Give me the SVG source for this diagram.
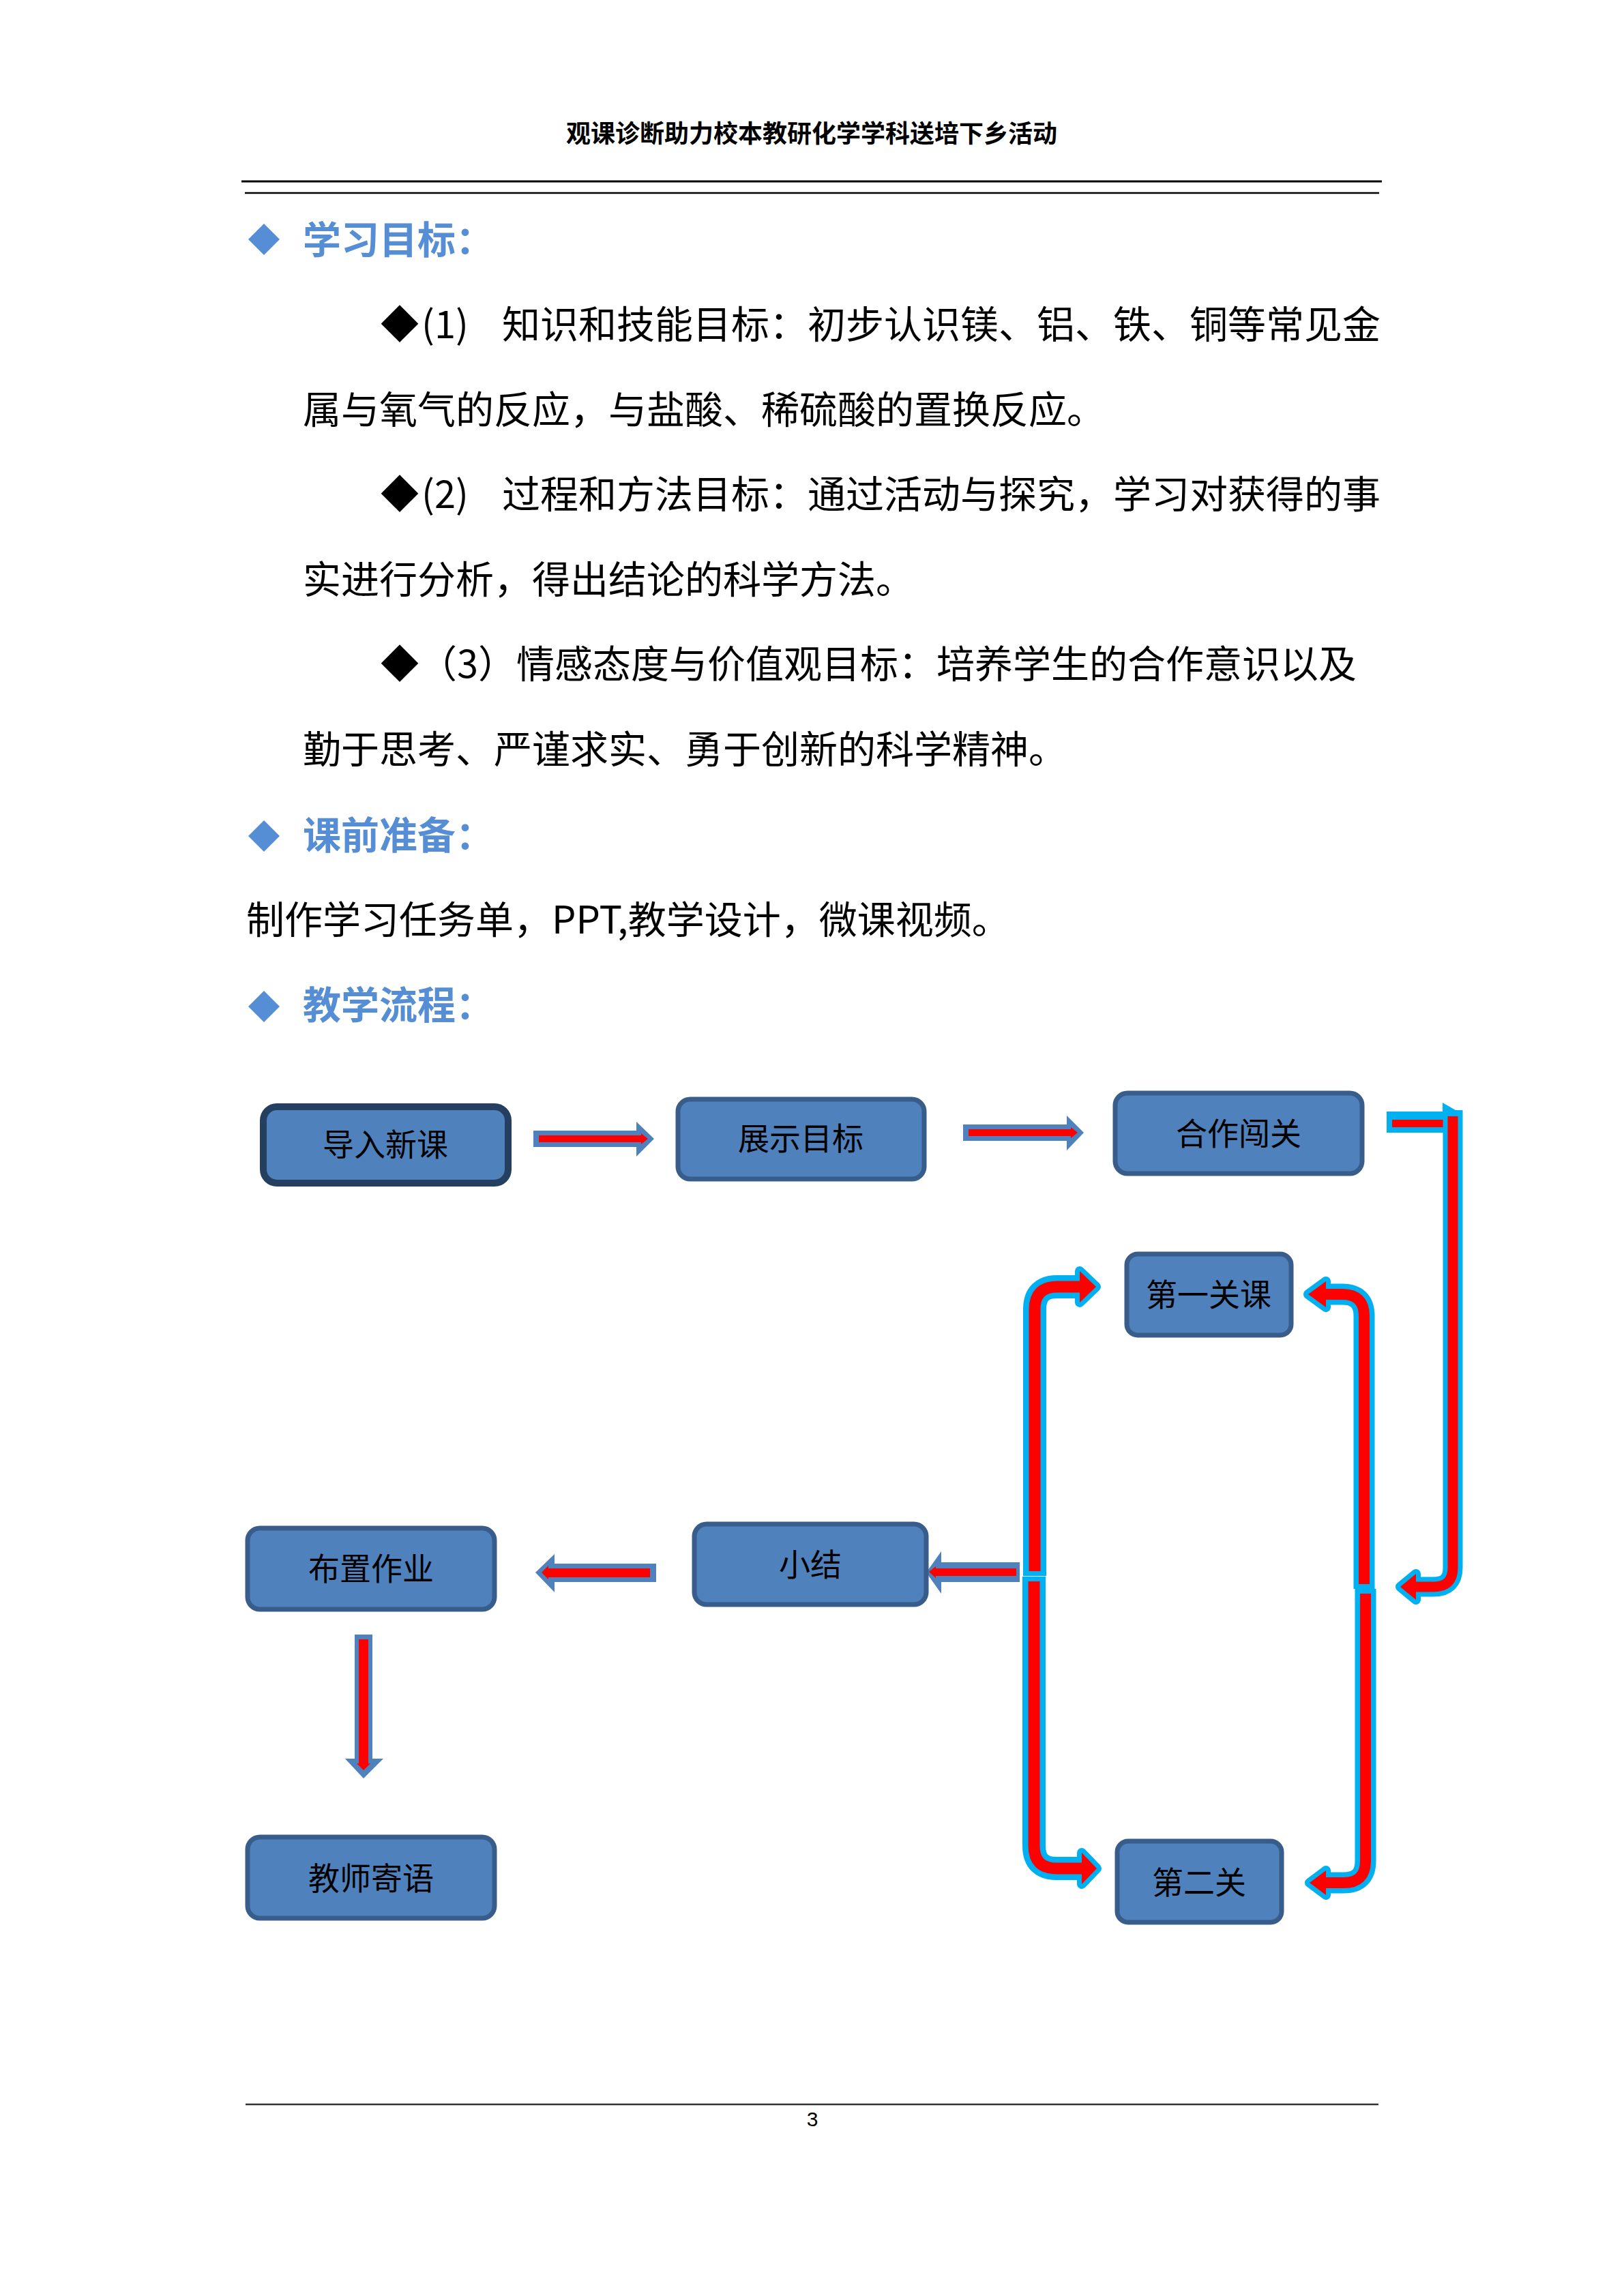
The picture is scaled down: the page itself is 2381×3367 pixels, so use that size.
<svg xmlns="http://www.w3.org/2000/svg" width="2381" height="3367" viewBox="0 0 2381 3367">
<style>
.body{font-family:"Noto Sans CJK SC","Liberation Serif",serif;font-size:56px;fill:#000}
.hd{font-family:"Noto Sans CJK SC","Liberation Sans",sans-serif;font-size:56px;font-weight:bold;fill:#558ED5}
.top{font-family:"Noto Sans CJK SC","Liberation Sans",sans-serif;font-size:36px;font-weight:bold;fill:#000}
.node rect{fill:#4F81BD;stroke:#385D8A;stroke-width:7}
.node text{font-family:"Noto Sans CJK SC","Liberation Serif",serif;font-size:46px;fill:#000;text-anchor:middle}
.blk{fill:#4F81BD}
.red{fill:#FF0000}
.cy{fill:none;stroke:#00B0F0;stroke-linejoin:round}
.rd{fill:none;stroke:#FF0000;stroke-linejoin:round}
.cyh{fill:#00B0F0;stroke:#00B0F0;stroke-width:14;stroke-linejoin:round}
</style>
<rect width="2381" height="3367" fill="#fff"/>

<g id="header">
<text class="top" x="1190" y="209" text-anchor="middle">观课诊断助力校本教研化学学科送培下乡活动</text>
<line x1="354" y1="266" x2="2026" y2="266" stroke="#000" stroke-width="3"/>
<line x1="359" y1="283" x2="2022" y2="283" stroke="#000" stroke-width="2.5"/>
</g>

<g id="text">
<polygon points="387,328 410,351 387,374 364,351" fill="#558ED5"/>
<text class="hd" x="444" y="372">学习目标：</text>
<text class="body" x="558" y="496">◆</text>
<text class="body" x="618" y="496">(1)</text>
<text class="body" x="736" y="496">知识和技能目标：初步认识镁、铝、铁、铜等常见金</text>
<text class="body" x="444" y="621">属与氧气的反应，与盐酸、稀硫酸的置换反应。</text>
<text class="body" x="558" y="745">◆</text>
<text class="body" x="618" y="745">(2)</text>
<text class="body" x="736" y="745">过程和方法目标：通过活动与探究，学习对获得的事</text>
<text class="body" x="444" y="870">实进行分析，得出结论的科学方法。</text>
<text class="body" x="558" y="994">◆（3）情感态度与价值观目标：培养学生的合作意识以及</text>
<text class="body" x="444" y="1119">勤于思考、严谨求实、勇于创新的科学精神。</text>
<polygon points="387,1203 410,1226 387,1249 364,1226" fill="#558ED5"/>
<text class="hd" x="444" y="1245">课前准备：</text>
<text class="body" x="361" y="1369">制作学习任务单，PPT,教学设计，微课视频。</text>
<polygon points="387,1453 410,1476 387,1499 364,1476" fill="#558ED5"/>
<text class="hd" x="444" y="1494">教学流程：</text>
</g>

<g id="connectors">
<!-- 导入新课 -> 展示目标 -->
<polygon class="blk" points="782,1658 933,1658 933,1645 959,1670 933,1696 933,1682 782,1682"/>
<polygon class="red" points="790,1665 940,1665 940,1662 950,1670 940,1678 940,1675 790,1675"/>
<!-- 展示目标 -> 合作闯关 -->
<polygon class="blk" points="1412,1649 1564,1649 1564,1636 1589,1661 1564,1687 1564,1673 1412,1673"/>
<polygon class="red" points="1420,1656 1570,1656 1570,1653 1580,1661 1570,1669 1570,1666 1420,1666"/>
<!-- 合作闯关 -> 下行 -> 左 -->
<rect x="2033" y="1630" width="85" height="31" fill="#00B0F0"/>
<rect x="2041" y="1642" width="77" height="11" fill="#FF0000"/>
<polygon points="2115,1617 2115,1632 2134,1628" fill="#00B0F0"/>
<path class="cy" stroke-width="29" d="M2130,1628 L2130,2299 Q2130,2327 2102,2327 L2074,2327"/>
<polygon class="cyh" points="2076,2308 2053,2327 2076,2346"/>
<path class="rd" stroke-width="15" d="M2130,1637 L2130,2299 Q2130,2327 2102,2327 L2074,2327"/>
<polygon class="red" points="2076,2308 2053,2327 2076,2346"/>
<!-- 右侧上：到 第一关课 -->
<path class="cy" stroke-width="31" d="M2000,2330 L2000,1930 Q2000,1898 1968,1898 L1942,1898"/>
<polygon class="cyh" points="1944,1879 1918,1898 1944,1917"/>
<path class="rd" stroke-width="16" d="M2000,2323 L2000,1930 Q2000,1898 1968,1898 L1942,1898"/>
<polygon class="red" points="1944,1879 1918,1898 1944,1917"/>
<!-- 右侧下：到 第二关 -->
<path class="cy" stroke-width="31" d="M2002,2330 L2002,2729 Q2002,2761 1970,2761 L1942,2761"/>
<polygon class="cyh" points="1944,2743 1920,2761 1944,2779"/>
<path class="rd" stroke-width="16" d="M2002,2337 L2002,2729 Q2002,2761 1970,2761 L1942,2761"/>
<polygon class="red" points="1944,2743 1920,2761 1944,2779"/>
<!-- 左侧上：到 第一关课 -->
<path class="cy" stroke-width="34" d="M1517,2311 L1517,1920 Q1517,1887 1550,1887 L1585,1887"/>
<polygon class="cyh" points="1583,1864 1607,1887 1583,1910"/>
<path class="rd" stroke-width="17" d="M1517,2304 L1517,1920 Q1517,1887 1550,1887 L1585,1887"/>
<polygon class="red" points="1583,1864 1607,1887 1583,1910"/>
<!-- 左侧下：到 第二关 -->
<path class="cy" stroke-width="34" d="M1516,2312 L1516,2707 Q1516,2740 1549,2740 L1586,2740"/>
<polygon class="cyh" points="1586,2717 1608,2740 1586,2763"/>
<path class="rd" stroke-width="17" d="M1516,2319 L1516,2707 Q1516,2740 1549,2740 L1586,2740"/>
<polygon class="red" points="1586,2717 1608,2740 1586,2763"/>
<!-- -> 小结 -->
<polygon class="blk" points="1495,2291 1380,2291 1380,2275 1358,2306 1380,2337 1380,2320 1495,2320"/>
<polygon class="red" points="1490,2300 1372,2300 1372,2297 1362,2305 1372,2314 1372,2311 1490,2311"/>
<!-- 小结 -> 布置作业 -->
<polygon class="blk" points="962,2293 813,2293 813,2279 785,2306 813,2335 813,2320 962,2320"/>
<polygon class="red" points="953,2300 804,2300 804,2296 794,2306 804,2316 804,2313 953,2313"/>
<!-- 布置作业 -> 教师寄语 -->
<polygon class="blk" points="520,2397 546,2397 546,2579 562,2579 533,2608 506,2579 520,2579"/>
<polygon class="red" points="526,2404 540,2404 540,2586 543,2586 533,2596 523,2586 526,2586"/>
</g>

<g id="n1" class="node"><rect x="386" y="1623" width="359" height="112" rx="20" style="stroke:#243F60;stroke-width:10"/><text x="565" y="1695">导入新课</text></g>
<g id="n2" class="node"><rect x="994" y="1612" width="361" height="117" rx="18"/><text x="1174" y="1686">展示目标</text></g>
<g id="n3" class="node"><rect x="1635" y="1603" width="362" height="118" rx="18"/><text x="1816" y="1679">合作闯关</text></g>
<g id="n4" class="node"><rect x="1652" y="1839" width="241" height="119" rx="16"/><text x="1772" y="1915">第一关课</text></g>
<g id="n5" class="node"><rect x="1638" y="2700" width="241" height="119" rx="16"/><text x="1758" y="2777">第二关</text></g>
<g id="n6" class="node"><rect x="1018" y="2235" width="340" height="118" rx="18"/><text x="1188" y="2311">小结</text></g>
<g id="n7" class="node"><rect x="363" y="2241" width="362" height="119" rx="18"/><text x="544" y="2317">布置作业</text></g>
<g id="n8" class="node"><rect x="363" y="2694" width="362" height="119" rx="18"/><text x="544" y="2771">教师寄语</text></g>

<g id="footer">
<line x1="360" y1="3086" x2="2021" y2="3086" stroke="#333" stroke-width="2.5"/>
<text x="1191" y="3118" text-anchor="middle" font-family="Liberation Sans, sans-serif" font-size="30" fill="#000">3</text>
</g>
</svg>
